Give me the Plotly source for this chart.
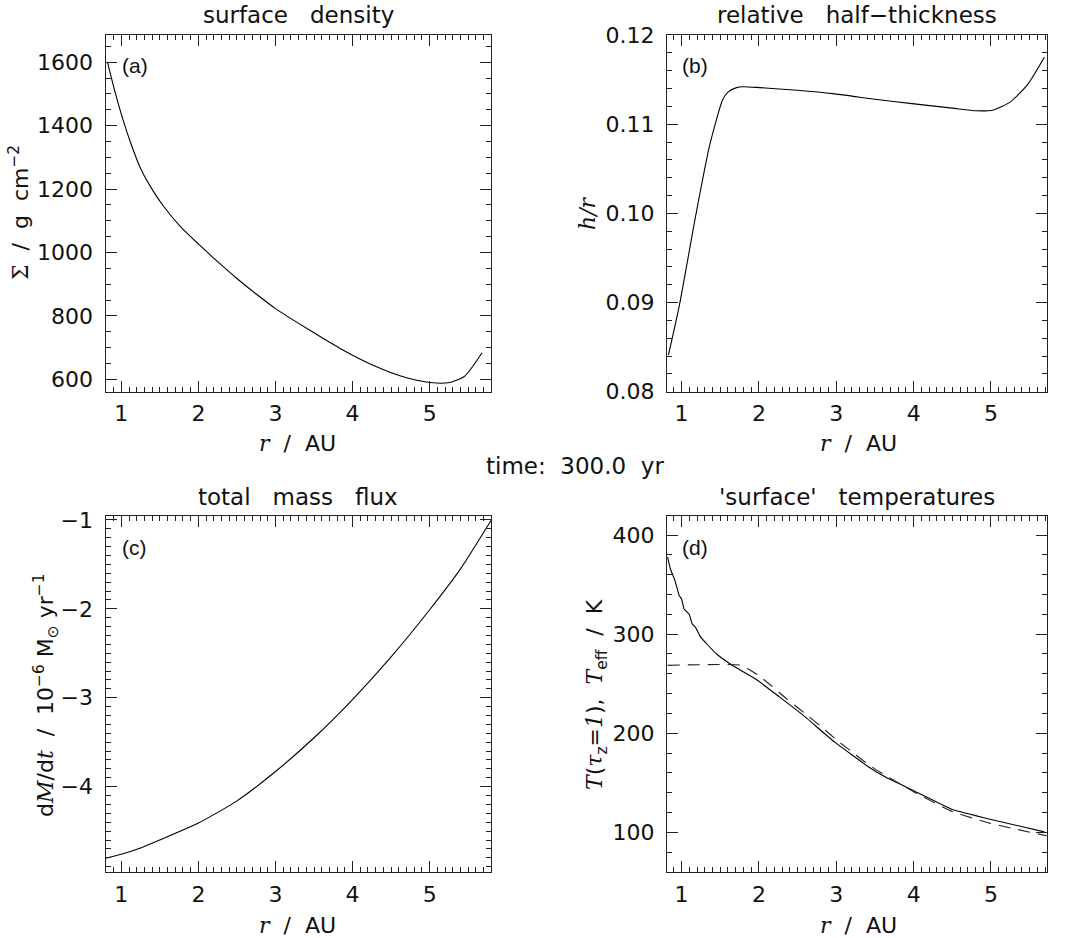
import plotly.graph_objects as go

# ---------------- data ----------------
# (a) surface density
r_a = [0.821, 0.92, 1.02, 1.13, 1.25, 1.40, 1.55, 1.77, 2.0, 2.25, 2.5, 2.75, 3.0, 3.43, 3.85, 4.28, 4.70, 5.0, 5.24, 5.45, 5.68]
sigma = [1600, 1505, 1420, 1340, 1265, 1199, 1145, 1081, 1027, 971, 918, 869, 823, 757, 696, 643, 605, 590, 589, 609, 684]

# (b) relative half-thickness
r_b = [0.83, 0.97, 1.18, 1.36, 1.53, 1.60, 1.71, 1.80, 2.01, 2.5, 2.98, 3.5, 3.98, 4.5, 4.81, 5.03, 5.25, 5.47, 5.69]
hr = [0.0841, 0.0896, 0.0996, 0.1075, 0.1127, 0.1136, 0.1141, 0.1142, 0.1141, 0.1138, 0.1134, 0.1128, 0.1123, 0.1118, 0.1115, 0.1116, 0.1125, 0.1144, 0.1175]

# (c) total mass flux
r_c = [0.80, 1.0, 1.25, 1.5, 2.0, 2.5, 3.0, 3.5, 4.0, 4.5, 5.0, 5.4, 5.8]
mdot = [-4.805, -4.76, -4.69, -4.60, -4.41, -4.16, -3.83, -3.45, -3.02, -2.54, -2.01, -1.55, -1.0]

# (d) 'surface' temperatures: T(tau_z=1) solid, T_eff dashed
r_ds = [0.820, 0.855, 0.906, 0.939, 0.969, 1.0, 1.033, 1.097, 1.139, 1.181, 1.237, 1.33, 1.457, 1.67, 1.967, 2.26, 2.56, 2.98, 3.4, 3.63, 4.0, 4.5, 5.0, 5.69]
T_tau = [378, 366, 356, 347.5, 339, 335.6, 325.4, 320.3, 310.2, 306.8, 298.3, 289.8, 279.7, 267.8, 254.2, 237, 219, 191, 167, 156, 142, 123, 113, 100.5]
r_dd = [0.820, 1.776, 1.90, 2.0, 2.16, 2.37, 2.58, 2.8, 3.0, 3.24, 3.46, 4.0, 4.5, 5.0, 5.72]
T_eff = [268.5, 268.5, 263, 258, 248, 234, 221, 207, 193.5, 179, 166, 141, 121, 109, 96.5]

SP = "\u00a0\u00a0\u00a0"
titles = ["surface" + SP + "density", "relative" + SP + "half\u2212thickness",
          "total" + SP + "mass" + SP + "flux", "'surface'" + SP + "temperatures"]
suptitle = "time:\u00a0\u00a0300.0\u00a0\u00a0yr"
panel_labels = ["(a)", "(b)", "(c)", "(d)"]

W, H = 1066, 938
FONT = "DejaVu Sans"
SERIF = "DejaVu Serif"


def px(x):
    return x / W


def py(y):
    return 1 - y / H


def it(s):
    return "<span style=\"font-family:'%s'\"><i>%s</i></span>" % (SERIF, s)


# box geometry (pixels)
AL, AR = 105.6, 491.0
BL, BR = 667.0, 1047.0
xa_dom = [px(AL), px(AR)]
xb_dom = [px(BL), px(BR)]
top_dom = [py(391.7), py(35)]
bot_dom = [py(872), py(515.7)]
ca = (AL + AR) / 2
cb = (BL + BR) / 2

fig = go.Figure()
line = dict(color="black", width=1.1, shape="spline", smoothing=0.6)
fig.add_trace(go.Scatter(x=r_a, y=sigma, mode="lines", line=line, xaxis="x", yaxis="y", showlegend=False))
fig.add_trace(go.Scatter(x=r_b, y=hr, mode="lines", line=line, xaxis="x2", yaxis="y2", showlegend=False))
fig.add_trace(go.Scatter(x=r_c, y=mdot, mode="lines", line=line, xaxis="x3", yaxis="y3", showlegend=False))
fig.add_trace(go.Scatter(x=r_ds, y=T_tau, mode="lines", line=dict(color="black", width=1.1, shape="spline", smoothing=0.3),
                         xaxis="x4", yaxis="y4", showlegend=False))
fig.add_trace(go.Scatter(x=r_dd, y=T_eff, mode="lines",
                         line=dict(color="#222", width=1.1, dash="12px,8px", shape="spline", smoothing=0.5),
                         xaxis="x4", yaxis="y4", showlegend=False))


def ax(dom, rng, dtick, mdtick, anchor, is_x):
    d = dict(domain=dom, range=rng, dtick=dtick, tick0=0, anchor=anchor, automargin=False,
             showline=True, linecolor="#222", linewidth=1.3, mirror="allticks",
             ticks="inside", ticklen=11, tickwidth=1.2, tickcolor="#222",
             showgrid=False, zeroline=False,
             tickfont=dict(family=FONT, size=22, color="#111"),
             minor=dict(ticks="inside", ticklen=5, tickwidth=1, tickcolor="#222", dtick=mdtick, tick0=0, showgrid=False),
             ticklabelstandoff=2 if is_x else 7)
    return d


fig.update_layout(
    template="none",
    width=W, height=H, margin=dict(l=0, r=0, t=0, b=0, pad=0),
    paper_bgcolor="white", plot_bgcolor="white",
    xaxis=ax(xa_dom, [0.796, 5.796], 1, 0.1, "y", True),
    yaxis=ax(top_dom, [561, 1686], 200, 50, "x", False),
    xaxis2=ax(xb_dom, [0.812, 5.724], 1, 0.1, "y2", True),
    yaxis2=ax(top_dom, [0.08, 0.12], 0.01, 0.002, "x2", False),
    xaxis3=ax(xa_dom, [0.796, 5.796], 1, 0.1, "y3", True),
    yaxis3=ax(bot_dom, [-4.96, -0.952], 1, 0.1, "x3", False),
    xaxis4=ax(xb_dom, [0.812, 5.724], 1, 0.1, "y4", True),
    yaxis4=ax(bot_dom, [60, 419.5], 100, 20, "x4", False),
)
fig.layout.yaxis2.tickformat = ".2f"

ann = []
tf = dict(family=FONT, size=22, color="#111")
ttf = dict(family=FONT, size=23, color="#111")


def add(text, x, y, angle=0, font=tf):
    ann.append(dict(text=text, x=px(x), y=py(y), xref="paper", yref="paper", showarrow=False,
                    xanchor="center", yanchor="middle", textangle=angle, font=font))


# titles
add(titles[0], ca, 15, font=ttf)
add(titles[1], cb, 15, font=ttf)
add(titles[2], ca, 497, font=ttf)
add(titles[3], cb, 497, font=ttf)
add(suptitle, 575, 466, font=ttf)

# x titles
xt = it("r") + "\u00a0\u00a0/\u00a0\u00a0AU"
add(xt, ca - 1, 444)
add(xt, cb + 1, 444)
add(xt, ca - 1, 925)
add(xt, cb + 1, 925)

# y titles
add("<span style=\"font-family:'%s'\">\u03a3</span>\u00a0\u00a0/\u00a0\u00a0g\u00a0\u00a0cm<sup>\u22122</sup>" % SERIF, 19, 213, -90)
add(it("h/r"), BL - 80, 213, -90)
add("d" + it("M") + "/d" + it("t") + "\u00a0\u00a0/\u00a0\u00a010<sup>\u22126</sup>\u00a0M<sub>\u2299</sub>\u00a0yr<sup>\u22121</sup>", 46, 696, -90)
add(it("T") + "(" + it("\u03c4") + "<sub>z</sub>=" + it("1") + "),\u00a0\u00a0" + it("T") + "<sub>eff</sub>\u00a0\u00a0/\u00a0\u00a0K", BL - 71, 695, -90)

# panel labels
lf = dict(family="Liberation Sans", size=21, color="#111")
add(panel_labels[0], AL + 29, 65, font=lf)
add(panel_labels[1], BL + 28, 65, font=lf)
add(panel_labels[2], AL + 29, 547, font=lf)
add(panel_labels[3], BL + 28, 547, font=lf)

fig.update_layout(annotations=ann)
fig.write_html("out.html")
